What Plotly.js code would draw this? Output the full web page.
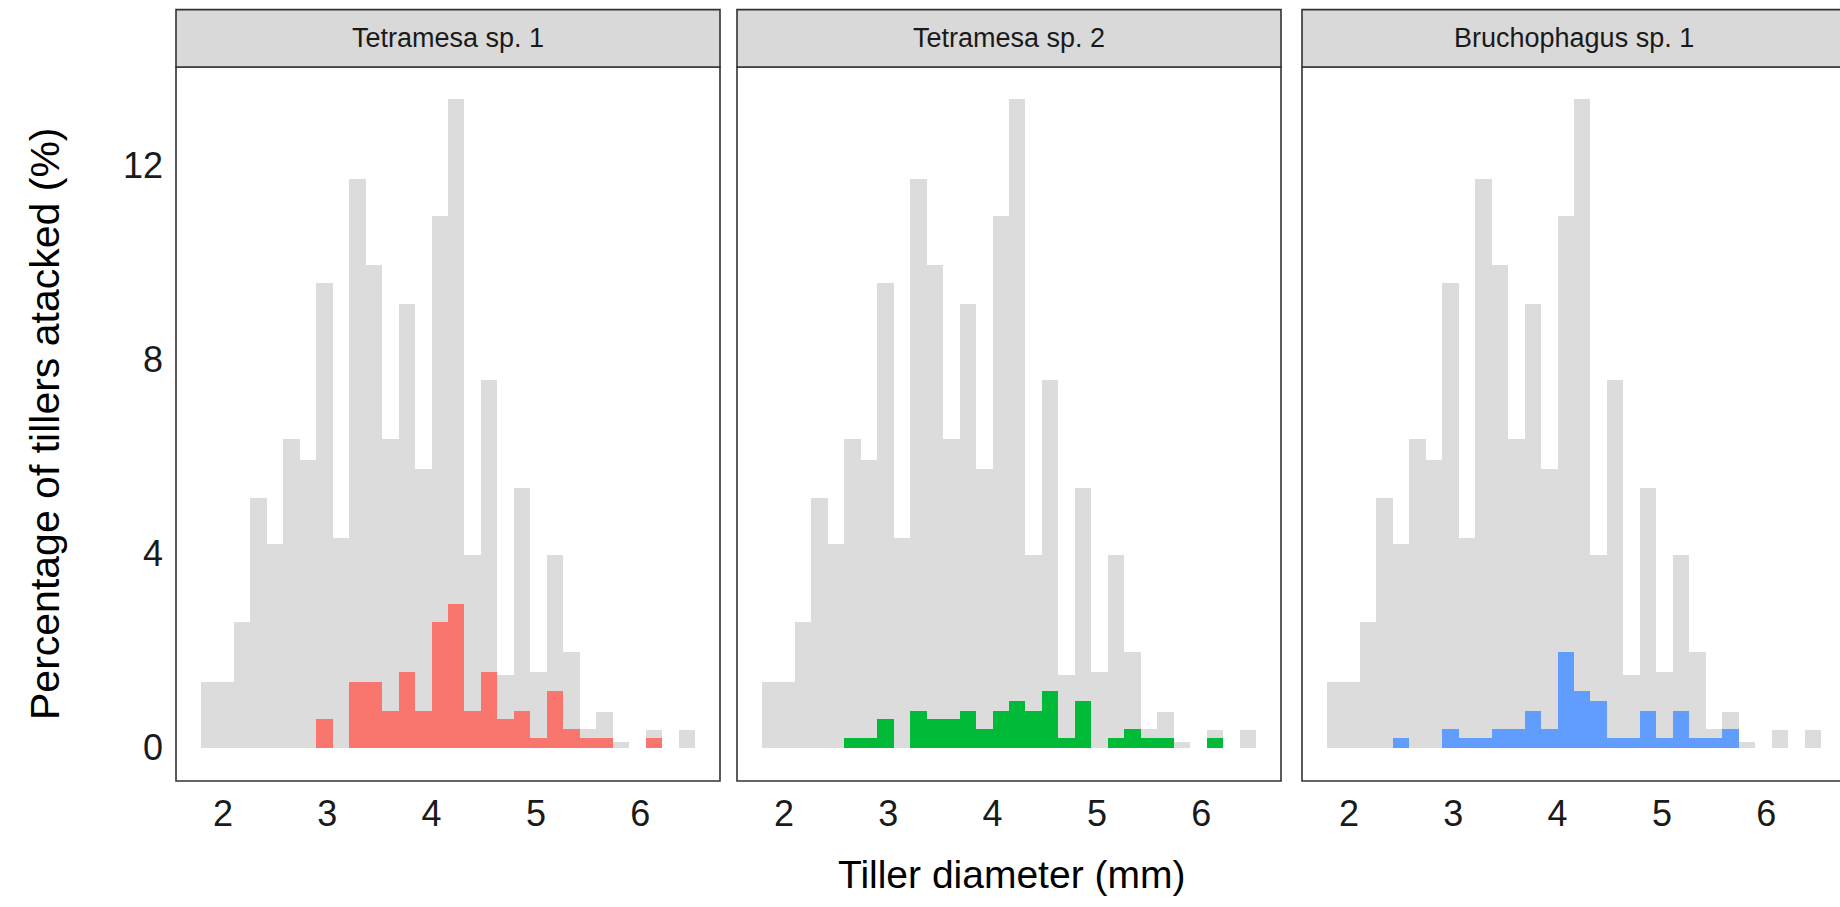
<!DOCTYPE html>
<html>
<head>
<meta charset="utf-8">
<script src="https://cdn.plot.ly/plotly-3.0.1.min.js"></script>
<style>
  html, body { margin: 0; padding: 0; background: #ffffff; }
  #chart { width: 1840px; height: 907px; }
</style>
</head>
<body>
<div id="chart"></div>
<script>
// ---- Data ----
const panelNames = ['Tetramesa sp. 1', 'Tetramesa sp. 2', 'Bruchophagus sp. 1'];

// Histogram bin centres (mm), 30 bins
const binCenters = [1.866, 2.024, 2.182, 2.340, 2.498, 2.656, 2.814, 2.972, 3.130, 3.288,
                    3.446, 3.604, 3.762, 3.920, 4.078, 4.236, 4.394, 4.552, 4.710, 4.868,
                    5.026, 5.184, 5.342, 5.500, 5.658, 5.816, 5.974, 6.132, 6.290, 6.448];

// All tillers (grey background histogram), %
const allTillers = [1.35, 1.35, 2.58, 5.15, 4.20, 6.37, 5.92, 9.58, 4.33, 11.72,
                    9.95, 6.37, 9.15, 5.75, 10.96, 13.37, 3.96, 7.58, 1.50, 5.35,
                    1.55, 3.96, 1.96, 0.38, 0.74, 0.12, 0, 0.36, 0, 0.36];

// Tillers attacked by each species, %
const tetramesa1 = [0, 0, 0, 0, 0, 0, 0, 0.58, 0, 1.35,
                    1.35, 0.76, 1.55, 0.76, 2.58, 2.96, 0.76, 1.55, 0.58, 0.76,
                    0.19, 1.16, 0.38, 0.19, 0.19, 0, 0, 0.19, 0, 0];
const tetramesa2 = [0, 0, 0, 0, 0, 0.19, 0.19, 0.58, 0, 0.76,
                    0.58, 0.58, 0.76, 0.38, 0.76, 0.96, 0.76, 1.16, 0.19, 0.96,
                    0, 0.19, 0.38, 0.19, 0.19, 0, 0, 0.19, 0, 0];
const bruchophagus1 = [0, 0, 0, 0, 0.19, 0, 0, 0.38, 0.19, 0.19,
                       0.38, 0.38, 0.76, 0.38, 1.96, 1.16, 0.96, 0.19, 0.19, 0.76,
                       0.19, 0.76, 0.19, 0.19, 0.38, 0, 0, 0, 0, 0];

const xTickVals = [2, 3, 4, 5, 6];
const yTickVals = [0, 4, 8, 12];

// ---- Styling ----
const BIN_WIDTH = 0.158;
const greyColor = '#DCDCDC';
const seriesColors = ['#F8766D', '#00BA38', '#619CFF'];
const seriesData = [tetramesa1, tetramesa2, bruchophagus1];
const FONT = 'Liberation Sans, Arial, Helvetica, sans-serif';

// geometry (pixels)
const W = 1840, H = 907;
const mL = 176, mR = 0, mT = 66.7, mB = 126.3;
const plotW = W - mL - mR, plotH = H - mT - mB;
const panelPx = [[176, 720], [737, 1281], [1302, 1846]];
const pxToPaperX = px => (px - mL) / plotW;
const pxToPaperY = py => (H - mB - py) / plotH;

const xRangeFull = [1.55, 6.764];
const unitsPerPx = (xRangeFull[1] - xRangeFull[0]) / (panelPx[0][1] - panelPx[0][0]);

const traces = [];
const layout = {
  width: W, height: H,
  margin: {l: mL, r: mR, t: mT, b: mB, pad: 0},
  paper_bgcolor: '#ffffff',
  plot_bgcolor: '#ffffff',
  barmode: 'overlay',
  bargap: 0,
  showlegend: false,
  font: {family: FONT, color: '#1a1a1a'},
  shapes: [],
  annotations: []
};

for (let i = 0; i < 3; i++) {
  const sfx = i === 0 ? '' : String(i + 1);
  const xa = 'x' + sfx, ya = 'y' + sfx;
  traces.push({
    type: 'bar', x: binCenters, y: allTillers, width: BIN_WIDTH,
    xaxis: xa, yaxis: ya,
    marker: {color: greyColor, line: {width: 0}},
    hoverinfo: 'skip'
  });
  traces.push({
    type: 'bar', x: binCenters, y: seriesData[i], width: BIN_WIDTH,
    xaxis: xa, yaxis: ya,
    marker: {color: seriesColors[i], line: {width: 0}},
    name: panelNames[i]
  });

  const d0 = pxToPaperX(panelPx[i][0]);
  const d1 = Math.min(1, pxToPaperX(panelPx[i][1]));
  const visibleW = (Math.min(W, panelPx[i][1]) - panelPx[i][0]);
  const xr = [xRangeFull[0], xRangeFull[0] + visibleW * unitsPerPx];

  layout['xaxis' + sfx] = {
    domain: [d0, d1], range: xr, anchor: ya,
    tickvals: xTickVals, ticktext: xTickVals.map(String),
    ticks: '', showgrid: false, zeroline: false, showline: false,
    tickfont: {family: FONT, size: 36, color: '#1a1a1a'},
    ticklabelstandoff: 8
  };
  layout['yaxis' + sfx] = {
    domain: [0, 1], range: [-0.69, 14.03], anchor: xa,
    tickvals: yTickVals, ticktext: yTickVals.map(String),
    ticks: '', showgrid: false, zeroline: false, showline: false,
    showticklabels: i === 0,
    tickfont: {family: FONT, size: 36, color: '#1a1a1a'},
    ticklabelstandoff: 12
  };

  // panel border
  layout.shapes.push({
    type: 'rect', xref: 'paper', yref: 'paper', layer: 'above',
    x0: pxToPaperX(panelPx[i][0]), x1: pxToPaperX(panelPx[i][1]),
    y0: 0, y1: 1,
    line: {color: '#333333', width: 1.6}, fillcolor: 'rgba(0,0,0,0)'
  });
  // strip
  layout.shapes.push({
    type: 'rect', xref: 'paper', yref: 'paper', layer: 'above',
    x0: pxToPaperX(panelPx[i][0]), x1: pxToPaperX(panelPx[i][1]),
    y0: 1, y1: pxToPaperY(9.3),
    line: {color: '#333333', width: 1.6}, fillcolor: '#D9D9D9'
  });
  layout.annotations.push({
    xref: 'paper', yref: 'paper',
    x: pxToPaperX((panelPx[i][0] + panelPx[i][1]) / 2), y: pxToPaperY(38),
    xanchor: 'center', yanchor: 'middle', showarrow: false,
    text: panelNames[i],
    font: {family: FONT, size: 27, color: '#1a1a1a'}
  });
}

// axis titles
layout.annotations.push({
  xref: 'paper', yref: 'paper',
  x: pxToPaperX(1011), y: pxToPaperY(874),
  xanchor: 'center', yanchor: 'middle', showarrow: false,
  text: 'Tiller diameter (mm)',
  font: {family: FONT, size: 39, color: '#000000'}
});
layout.annotations.push({
  xref: 'paper', yref: 'paper',
  x: pxToPaperX(45), y: 0.5,
  xanchor: 'center', yanchor: 'middle', showarrow: false, textangle: -90,
  text: 'Percentage of tillers atacked (%)',
  font: {family: FONT, size: 41, color: '#000000'}
});

Plotly.newPlot('chart', traces, layout, {staticPlot: true, displayModeBar: false});
</script>
</body>
</html>
